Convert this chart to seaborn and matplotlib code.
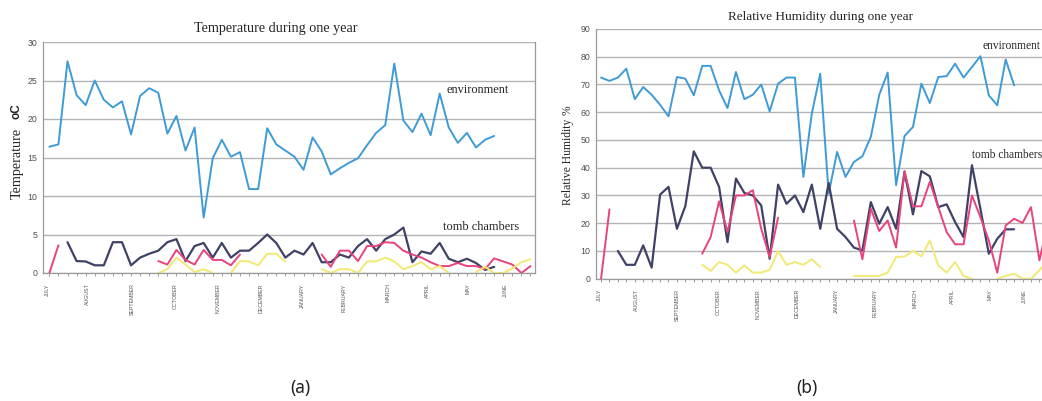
import numpy as np
import pandas as pd
import matplotlib
matplotlib.use("Agg")
import matplotlib.pyplot as plt
import seaborn as sns

nan = np.nan

# weekly readings, week 0 = first week of July
n_weeks = 54
weeks = np.arange(n_weeks)

months = ["JULY", "AUGUST", "SEPTEMBER", "OCTOBER", "NOVEMBER", "DECEMBER",
          "JANUARY", "FEBRUARY", "MARCH", "APRIL", "MAY", "JUNE"]
month_weeks = [-0.2, 4.2, 9.1, 13.9, 18.6, 23.3, 27.9, 32.5, 37.3, 41.7, 46.1, 50.2]

# ---- temperature (deg C) ----
temp_environment = [16.4, 16.7, 27.5, 23.1, 21.8, 25.0, 22.5, 21.5, 22.3, 18.0,
                    23.0, 24.0, 23.4, 18.1, 20.4, 15.9, 18.9, 7.2, 14.9, 17.3,
                    15.1, 15.7, 10.9, 10.9, 18.8, 16.7, 15.9, 15.1, 13.4, 17.6,
                    15.8, 12.8, 13.6, 14.3, 14.9, 16.6, 18.2, 19.2, 27.2, 19.8,
                    18.3, 20.7, 17.9, 23.3, 18.9, 16.9, 18.2, 16.3, 17.3, 17.8]
temp_chamber_a = [nan, nan,
                  4.0, 1.55, 1.5, 1.0, 1.0, 4.0, 4.0, 1.0, 2.0, 2.5,
                  2.9, 4.0, 4.4, 1.55, 3.5, 3.9, 2.0, 3.9, 2.0, 2.9,
                  2.9, 3.9, 5.0, 3.9, 2.0, 2.9, 2.4, 3.9, 1.4, 1.4,
                  2.4, 2.0, 3.5, 4.4, 2.9, 4.4, 5.0, 5.9, 1.4, 2.8,
                  2.5, 3.9, 1.85, 1.4, 1.85, 1.3, 0.4, 0.8]
temp_chamber_b = [0.0, 3.6, nan, nan, nan, nan, nan, nan, nan, nan,
                  nan, nan, 1.55, 1.1, 3.0, 1.7, 1.1, 3.0, 1.7, 1.7,
                  1.0, 2.4, nan, nan, nan, nan, nan, nan, nan, nan,
                  2.4, 0.8, 2.9, 2.9, 1.55, 3.5, 3.5, 4.0, 3.9, 2.9,
                  2.4, 2.0, 1.4, 0.9, 0.9, 1.3, 0.9, 0.9, 0.5, 1.9,
                  1.5, 1.1, 0.0, 0.9]
temp_chamber_c = [nan, nan, nan, nan, nan, nan, nan, nan, nan, nan,
                  nan, nan, 0.0, 0.5, 2.0, 1.1, 0.1, 0.5, 0.0, nan,
                  0.0, 1.55, 1.5, 1.0, 2.5, 2.5, 1.5, nan, nan, nan,
                  0.5, 0.0, 0.5, 0.5, 0.0, 1.5, 1.5, 2.0, 1.5, 0.5,
                  0.9, 1.4, 0.5, 0.9, 0.0, nan, nan, 0.1, 0.8, 0.0,
                  0.0, 0.6, 1.4, 1.8]

# ---- relative humidity (%) ----
rh_environment = [72.5, 71.3, 72.5, 75.7, 64.7, 69.1, 66.3, 62.7, 58.5, 72.7,
                  72.1, 66.1, 76.7, 76.7, 67.9, 61.5, 74.5, 64.7, 66.3, 70.0,
                  60.3, 70.3, 72.5, 72.5, 36.7, 59.5, 73.9, 30.6, 45.7, 36.7,
                  42.1, 44.1, 51.1, 66.3, 74.3, 33.7, 51.4, 54.7, 70.3, 63.3,
                  72.7, 73.0, 77.5, 72.5, 76.3, 80.2, 66.1, 62.5, 79.0, 69.7]
rh_chamber_a = [nan, nan,
                10.0, 5.0, 5.0, 12.0, 4.0, 30.3, 33.1, 18.0, 26.2, 45.9,
                40.0, 40.0, 33.1, 13.2, 36.1, 30.9, 30.0, 26.4, 7.2, 33.9,
                27.0, 30.0, 24.0, 33.9, 18.0, 34.5, 18.0, 15.0, 11.2, 10.2,
                27.6, 19.8, 25.8, 18.0, 38.5, 23.2, 38.8, 36.9, 25.8, 26.8,
                20.4, 15.0, 40.9, 25.2, 9.0, 14.4, 17.8, 17.8]
rh_chamber_b = [0.0, 25.0, nan, nan, nan, nan, nan, nan, nan, nan,
                nan, nan, 9.0, 15.0, 27.9, 16.8, 30.0, 30.0, 31.9, 18.0,
                7.8, 22.0, nan, nan, nan, nan, nan, nan, nan, nan,
                21.0, 7.0, 25.2, 17.2, 21.0, 11.2, 38.8, 26.1, 26.1, 34.9,
                25.8, 16.8, 12.4, 12.4, 30.0, 22.2, 13.8, 2.2, 19.2, 21.6,
                20.1, 25.8, 6.6, 20.0]
rh_chamber_c = [nan, nan, nan, nan, nan, nan, nan, nan, nan, nan,
                nan, nan, 5.0, 2.8, 6.0, 5.0, 2.2, 4.8, 2.2, 2.2,
                3.2, 9.9, 5.0, 6.0, 5.0, 7.0, 4.2, nan, nan, nan,
                1.0, 1.0, 1.0, 1.0, 2.2, 7.8, 8.0, 10.0, 8.0, 13.8,
                4.8, 2.2, 6.0, 1.0, 0.0, nan, nan, 0.0, 1.0, 1.8,
                0.0, 0.0, 3.0, 7.0]

series_names = ["environment", "chamber A", "chamber B", "chamber C"]
series_colors = {"environment": "#3f9bd6", "chamber A": "#3f4266",
                 "chamber B": "#e8437c", "chamber C": "#f2e874"}
series_widths = {"environment": 1.4, "chamber A": 1.6,
                 "chamber B": 1.4, "chamber C": 1.4}


def to_long(columns):
    """Long table; each unbroken run of readings gets its own unit id."""
    rows = []
    for name, vals in zip(series_names, columns):
        vals = list(vals) + [nan] * (n_weeks - len(vals))
        run, gap = 0, True
        for w, v in zip(weeks, vals):
            if np.isnan(v):
                gap = True
                continue
            if gap:
                run += 1
                gap = False
            rows.append((w, v, name, f"{name}-{run}"))
    return pd.DataFrame(rows, columns=["week", "value", "series", "run"])


temp_df = to_long([temp_environment, temp_chamber_a, temp_chamber_b, temp_chamber_c])
rh_df = to_long([rh_environment, rh_chamber_a, rh_chamber_b, rh_chamber_c])

sns.set_theme(style="white")
plt.rcParams["font.family"] = ["Liberation Serif", "DejaVu Serif"]

W, H = 1042, 401
fig = plt.figure(figsize=(W / 100, H / 100), dpi=100)
fig.patch.set_facecolor("white")


def px(x0, y_bottom, w, h):
    return [x0 / W, 1 - y_bottom / H, w / W, h / H]


ax1 = fig.add_axes(px(43, 273, 492, 231))
ax2 = fig.add_axes(px(596, 278.7, 468.7, 249.7))


def draw(ax, df, ylim, ystep, xlim):
    for name in series_names:
        sub = df[df["series"] == name]
        sns.lineplot(data=sub, x="week", y="value", units="run",
                     estimator=None, color=series_colors[name],
                     linewidth=series_widths[name], legend=False, ax=ax,
                     sort=True)
    ax.set_xlim(*xlim)
    ax.set_ylim(*ylim)
    ax.set_yticks(np.arange(ylim[0], ylim[1] + 0.1, ystep))
    ax.yaxis.grid(True, color="#b4b4b4", linewidth=1.0)
    ax.xaxis.grid(False)
    ax.set_axisbelow(True)
    ax.set_xticks(month_weeks)
    ax.set_xticklabels(months, rotation=90, fontsize=3.8, color="#555555",
                       family="Liberation Sans")
    ax.set_xticks(weeks, minor=True)
    ax.tick_params(axis="x", which="major", length=0, pad=7.5)
    ax.tick_params(axis="x", which="minor", length=2.5, width=0.6,
                   color="#8a8a8a", direction="out", bottom=True)
    ax.tick_params(axis="y", length=0, pad=4, labelsize=6.3,
                   labelcolor="#4f4f4f")
    for lab in ax.get_yticklabels():
        lab.set_family("Liberation Sans")
    ax.set_xlabel("")
    ax.set_ylabel("")
    for side in ["left", "bottom", "right", "top"]:
        ax.spines[side].set_color("#9a9a9a")
        ax.spines[side].set_linewidth(0.9)
    ax.spines["top"].set_visible(False)


draw(ax1, temp_df, (0, 30), 5, (-0.7, 53.5))
draw(ax2, rh_df, (0, 90), 10, (-0.6, 55))
ax2.spines["right"].set_visible(False)

# series labels inside the panels
ax1.text(43.7, 23.8, "environment", fontsize=8.8, va="center", ha="left")
ax1.text(43.4, 6.0, "tomb chambers", fontsize=8.9, va="center", ha="left")
ax2.text(45.3, 83.7, "environment", fontsize=8.3, va="center", ha="left")
ax2.text(44.0, 44.5, "tomb chambers", fontsize=8.3, va="center", ha="left")

# titles
fig.text(276 / W, 1 - 28.5 / H, "Temperature during one year",
         ha="center", va="center", fontsize=10.2)
fig.text(820 / W, 1 - 17.3 / H, "Relative Humidity during one year",
         ha="center", va="center", fontsize=9.5)

# axis titles
fig.text(17 / W, 1 - 163 / H, "Temperature", rotation=90,
         ha="center", va="center", fontsize=10.2)
fig.text(17 / W, 1 - 111.5 / H, "oC", rotation=90, ha="center", va="center",
         fontsize=8.5, fontweight="bold", family="Liberation Sans")
fig.text(568 / W, 1 - 161.7 / H, "Relative Humidity", rotation=90,
         ha="center", va="center", fontsize=8.4)
fig.text(568 / W, 1 - 110 / H, "%", rotation=90, ha="center", va="center",
         fontsize=8.4)

# panel captions
fig.text(300 / W, 1 - 388 / H, "(a)", ha="center", va="center",
         fontsize=12.5, family="Noto Sans", color="#222222")
fig.text(807 / W, 1 - 388 / H, "(b)", ha="center", va="center",
         fontsize=12.5, family="Noto Sans", color="#222222")

fig.savefig("out.png", dpi=100, facecolor="white")
